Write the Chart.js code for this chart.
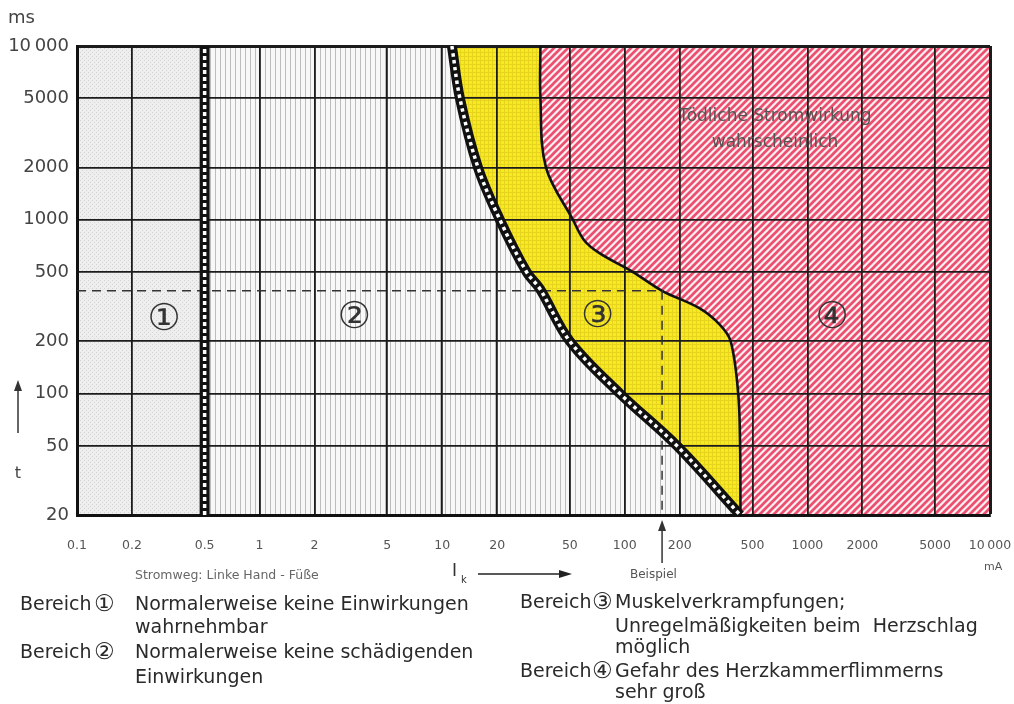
<!DOCTYPE html>
<html>
<head>
<meta charset="utf-8">
<script src="https://cdn.jsdelivr.net/npm/chart.js@4.4.1/dist/chart.umd.min.js"></script>
<style>
  html, body { margin: 0; padding: 0; background: #fff; }
  #chart { display: block; background: #fff; }
</style>
</head>
<body>
<canvas id="chart" width="1014" height="704"></canvas>
<script>
// Achsen (log-log): Strom in mA, Zeit in ms
const xTicks = [0.1, 0.2, 0.5, 1, 2, 5, 10, 20, 50, 100, 200, 500, 1000, 2000, 5000, 10000];
const xLabels = ['0.1', '0.2', '0.5', '1', '2', '5', '10', '20', '50', '100', '200', '500', '1000', '2000', '5000', '10\u2009000'];
const yTicks = [20, 50, 100, 200, 500, 1000, 2000, 5000, 10000];
const yLabels = ['20', '50', '100', '200', '500', '1000', '2000', '5000', '10\u2009000'];

// Grenze Bereich 1 / 2
const limit12Ma = [0.5, 0.5];
const limit12Ms = [20, 10000];

// Grenze Bereich 2 / 3
const limit23Ma = [11.3, 12.5, 15.7, 20.7, 29, 34.3, 50, 94, 193, 428];
const limit23Ms = [10000, 5000, 2000, 1000, 500, 400, 200, 100, 50, 20];

// Grenze Bereich 3 / 4
const limit34Ma = [34.5, 34.5, 37, 52, 60, 73, 111, 160, 256, 330, 380, 418, 428, 430];
const limit34Ms = [10000, 5000, 2000, 1000, 760, 640, 500, 390, 310, 250, 200, 100, 50, 20];

// Beispiel
const exampleMa = 160;
const exampleMs = 390;

const xMin = xTicks[0], xMax = xTicks[xTicks.length - 1];
const yMin = yTicks[0], yMax = yTicks[yTicks.length - 1];

const pts = (xs, ys) => xs.map((v, i) => ({x: v, y: ys[i]}));
const curve12 = pts(limit12Ma, limit12Ms);
const curve23 = pts(limit23Ma, limit23Ms);
const curve34 = pts(limit34Ma, limit34Ms);
// Flaeche rechts/oberhalb einer Grenze: Kurve, Endpunkt doppelt (gleiche Spline), dann entlang der Grundlinie
const rightOf = (curve) => curve.concat([curve[curve.length - 1], {x: xMax, y: yMin}]);

// Raster-Muster der Bereiche
function makePattern(size, draw) {
  const c = document.createElement('canvas');
  c.width = size;
  c.height = size;
  const g = c.getContext('2d');
  draw(g, size);
  return g.createPattern(c, 'repeat');
}
const dotted = makePattern(4, (g, s) => {
  g.fillStyle = '#eeeeee'; g.fillRect(0, 0, s, s);
  g.fillStyle = '#d4d4d4'; g.fillRect(0, 0, 1, 1); g.fillRect(2, 2, 1, 1);
});
const lined = makePattern(5, (g, s) => {
  g.fillStyle = '#f8f8f8'; g.fillRect(0, 0, s, s);
  g.fillStyle = '#bcbcbc'; g.fillRect(0, 0, 1, s);
});
const yellow = makePattern(4, (g, s) => {
  g.fillStyle = '#f8ea22'; g.fillRect(0, 0, s, s);
  g.fillStyle = '#e6d41e'; g.fillRect(0, 0, 1, s); g.fillRect(0, 0, s, 1);
});
const hatch = makePattern(7, (g, s) => {
  g.fillStyle = '#fdf0f2'; g.fillRect(0, 0, s, s);
  g.strokeStyle = '#ec4f70'; g.lineWidth = 2.7;
  g.beginPath();
  g.moveTo(0, s); g.lineTo(s, 0);
  g.moveTo(-s / 2, s / 2); g.lineTo(s / 2, -s / 2);
  g.moveTo(s / 2, s * 1.5); g.lineTo(s * 1.5, s / 2);
  g.stroke();
});

const none = 'rgba(0,0,0,0)';
const area = (data, bg, fill) => ({data, borderColor: none, borderWidth: 0, backgroundColor: bg, fill, tension: 0.35});

// Texte und Pfeile
const textPlugin = {
  id: 'texts',
  afterDraw(chart) {
    const {ctx} = chart;
    const xs = chart.scales.x, ys = chart.scales.y;
    ctx.save();
    ctx.textBaseline = 'middle';
    const text = (str, px, py, size, color, align) => {
      ctx.font = size + 'px "DejaVu Sans"';
      ctx.fillStyle = color;
      ctx.textAlign = align || 'left';
      ctx.fillText(str, px, py);
    };
    const arrowHead = (tx, ty, dir) => {
      ctx.beginPath();
      if (dir === 'up') {
        ctx.moveTo(tx, ty); ctx.lineTo(tx - 4, ty + 11); ctx.lineTo(tx + 4, ty + 11);
      } else {
        ctx.moveTo(tx, ty); ctx.lineTo(tx - 13, ty - 4); ctx.lineTo(tx - 13, ty + 4);
      }
      ctx.closePath();
      ctx.fill();
    };

    // Bereichsnummern im Diagramm
    text('\u2460', xs.getPixelForValue(0.3), ys.getPixelForValue(265), 37, '#333', 'center');
    text('\u2461', xs.getPixelForValue(3.3), ys.getPixelForValue(270), 37, '#333', 'center');
    text('\u2462', xs.getPixelForValue(71), ys.getPixelForValue(275), 37, '#333', 'center');
    text('\u2463', xs.getPixelForValue(1364), ys.getPixelForValue(270), 37, '#333', 'center');
    text('T\u00f6dliche Stromwirkung', xs.getPixelForValue(665), ys.getPixelForValue(3950), 17, '#555', 'center');
    text('wahrscheinlich', xs.getPixelForValue(665), ys.getPixelForValue(2790), 17, '#555', 'center');

    // Achsenbeschriftungen
    text('ms', 8, 18, 18, '#444');
    ctx.strokeStyle = '#333'; ctx.fillStyle = '#333'; ctx.lineWidth = 1.5;
    ctx.beginPath(); ctx.moveTo(18, 433); ctx.lineTo(18, 388); ctx.stroke();
    arrowHead(18, 380, 'up');
    text('t', 18, 474, 16, '#444', 'center');

    text('Stromweg: Linke Hand - F\u00fc\u00dfe', 135, 576, 12.5, '#666');
    text('I', 452, 572, 17, '#333');
    text('k', 461, 580, 10, '#333');
    ctx.strokeStyle = '#222'; ctx.fillStyle = '#222'; ctx.lineWidth = 1.6;
    ctx.beginPath(); ctx.moveTo(478, 574); ctx.lineTo(560, 574); ctx.stroke();
    arrowHead(572, 574, 'right');

    const bx = xs.getPixelForValue(exampleMa);
    ctx.strokeStyle = '#333'; ctx.fillStyle = '#333'; ctx.lineWidth = 1.5;
    ctx.beginPath(); ctx.moveTo(bx, 563); ctx.lineTo(bx, 528); ctx.stroke();
    arrowHead(bx, 520, 'up');
    text('Beispiel', 630, 575, 12, '#555');
    text('mA', 984, 567, 11, '#555');

    // Legende
    const c = '#2a2a2a', fs = 19, fc = 23;
    text('Bereich', 20, 605, fs, c); text('\u2460', 94, 605, fc, c);
    text('Normalerweise keine Einwirkungen', 135, 605, fs, c);
    text('wahrnehmbar', 135, 628, fs, c);
    text('Bereich', 20, 653, fs, c); text('\u2461', 94, 653, fc, c);
    text('Normalerweise keine sch\u00e4digenden', 135, 653, fs, c);
    text('Einwirkungen', 135, 678, fs, c);
    text('Bereich', 520, 603, fs, c); text('\u2462', 592, 603, fc, c);
    text('Muskelverkrampfungen;', 615, 603, fs, c);
    text('Unregelm\u00e4\u00dfigkeiten beim  Herzschlag', 615, 627, fs, c);
    text('m\u00f6glich', 615, 648, fs, c);
    text('Bereich', 520, 672, fs, c); text('\u2463', 592, 672, fc, c);
    text('Gefahr des Herzkammerflimmerns', 615, 672, fs, c);
    text('sehr gro\u00df', 615, 693, fs, c);
    ctx.restore();
  }
};

const edgeWidth = (c) => (c.tick && c.tick.value === 10000 ? 3 : 1.8);

new Chart(document.getElementById('chart').getContext('2d'), {
  type: 'scatter',
  data: {
    datasets: [
      {data: curve12, borderColor: '#fff', borderWidth: 3.5, borderDash: [4, 3], tension: 0},
      {data: curve12, borderColor: '#111', borderWidth: 10, tension: 0},
      {data: curve23, borderColor: '#fff', borderWidth: 3.5, borderDash: [3.5, 3.5], tension: 0.35},
      {data: curve23, borderColor: '#111', borderWidth: 10, tension: 0.35},
      {data: [{x: xMin, y: exampleMs}, {x: exampleMa, y: exampleMs}, {x: exampleMa, y: yMin}],
        borderColor: '#333', borderWidth: 1.5, borderDash: [9, 6], tension: 0},
      {data: curve34, borderColor: '#111', borderWidth: 2.6, tension: 0.35},
      // Flaechen: weiter unten in der Liste = tiefer liegend
      area([{x: xMin, y: yMax}, {x: limit12Ma[0], y: yMax}], dotted, 'start'),
      area(rightOf(curve34), hatch, 'end'),
      area(rightOf(curve23), yellow, 'end'),
      area([{x: xMin, y: yMax}, {x: xMax, y: yMax}], lined, 'start')
    ]
  },
  options: {
    responsive: false,
    animation: false,
    devicePixelRatio: 1,
    showLine: true,
    elements: {point: {radius: 0, hoverRadius: 0}},
    layout: {autoPadding: false, padding: {top: 46, right: 24, left: 0, bottom: 0}},
    plugins: {
      legend: {display: false},
      tooltip: {enabled: false},
      filler: {drawTime: 'beforeDraw'}
    },
    scales: {
      x: {
        type: 'logarithmic',
        min: xMin,
        max: xMax,
        afterBuildTicks: (s) => { s.ticks = xTicks.map((v) => ({value: v})); },
        afterFit: (s) => { s.height = 189; },
        ticks: {
          autoSkip: false,
          maxRotation: 0,
          padding: 1,
          color: '#555',
          font: {family: 'DejaVu Sans', size: 12.5},
          callback: (v, i) => xLabels[i]
        },
        grid: {color: '#1c1c1c', lineWidth: edgeWidth, drawTicks: true, tickLength: 22, tickColor: none},
        border: {color: '#111', width: 3}
      },
      y: {
        type: 'logarithmic',
        min: yMin,
        max: yMax,
        afterBuildTicks: (s) => { s.ticks = yTicks.map((v) => ({value: v})); },
        afterFit: (s) => { s.width = 77; },
        ticks: {
          autoSkip: false,
          padding: 8,
          color: '#444',
          font: {family: 'DejaVu Sans', size: 18},
          callback: (v, i) => yLabels[i]
        },
        grid: {color: '#1c1c1c', lineWidth: edgeWidth, drawTicks: false},
        border: {color: '#111', width: 3}
      }
    }
  },
  plugins: [textPlugin]
});
</script>
</body>
</html>
